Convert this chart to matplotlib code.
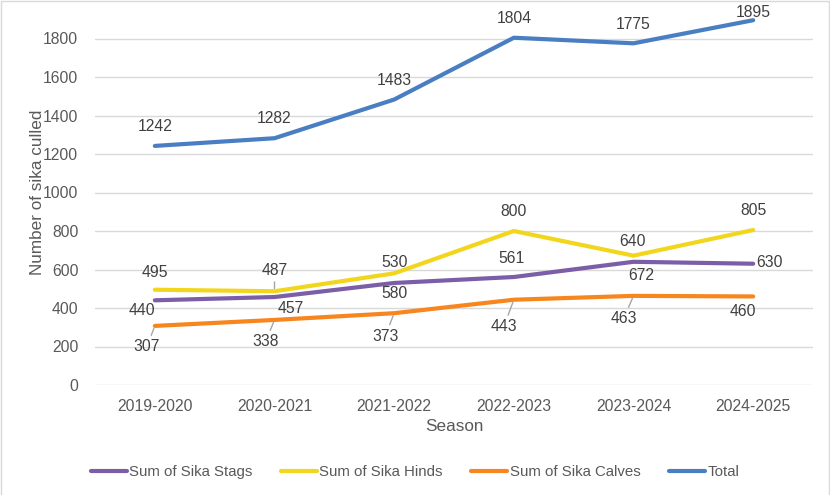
import matplotlib.pyplot as plt
from matplotlib.patches import Rectangle

plt.rcParams['font.family'] = ['Liberation Sans', 'DejaVu Sans']

seasons = ["2019-2020", "2020-2021", "2021-2022", "2022-2023", "2023-2024", "2024-2025"]
stags = [440, 457, 530, 561, 640, 630]
hinds = [495, 487, 580, 800, 672, 805]
calves = [307, 338, 373, 443, 463, 460]
total = [1242, 1282, 1483, 1804, 1775, 1895]

GRID = "#D9D9D9"
TXT = "#595959"
PURPLE = "#7B5EA7"
YELLOW = "#F2D61E"
ORANGE = "#F7861F"
BLUE = "#4A7EC2"

fig = plt.figure(figsize=(8.3, 4.95), dpi=100)
fig.patch.set_facecolor("white")
ax = fig.add_axes([95 / 830, 110 / 495, 718 / 830, 385 / 495])

x = list(range(len(seasons)))
series = [
    ("Sum of Sika Stags", stags, PURPLE),
    ("Sum of Sika Hinds", hinds, YELLOW),
    ("Sum of Sika Calves", calves, ORANGE),
    ("Total", total, BLUE),
]
for name, vals, col in series:
    ax.plot(x, vals, color=col, lw=3, solid_capstyle='round', solid_joinstyle='round',
            label=name, zorder=3)

ax.set_xlim(-0.5, len(seasons) - 0.5)
ax.set_ylim(0, 2000)
ax.set_yticks(range(0, 2000, 200))
ax.set_xticks(x)
ax.set_xticklabels(seasons)
ax.grid(axis='y', color=GRID, lw=1)
ax.set_axisbelow(True)
for s in ax.spines.values():
    s.set_visible(False)
ax.tick_params(length=0, colors=TXT, labelsize=11.3)
ax.tick_params(axis='y', pad=12)
ax.tick_params(axis='x', pad=10)
ax.set_xlabel("Season", fontsize=12.3, color=TXT, labelpad=4)
ax.set_ylabel("Number of sika culled", fontsize=12.3, color=TXT, labelpad=-1.5)

# data label offsets (pixels) and whether a leader line is drawn
offs = {
    "Total": [(0, 19, 0), (0, 20, 0), (0, 19, 0), (0, 19, 0), (0, 19, 0), (0, 8, 0)],
    "Sum of Sika Hinds": [(0, 17, 0), (0, 21, 1), (0, -20, 0), (0, 19, 0), (8, -20, 0), (0, 20, 0)],
    "Sum of Sika Stags": [(-13, -10, 0), (16, -11, 0), (0, 20, 0), (-2, 19, 0), (-1, 20, 0), (3, 1, 0)],
    "Sum of Sika Calves": [(-8, -21, 1), (-9, -22, 1), (-9, -23, 1), (-10, -27, 1), (-10, -23, 1), (-10, -15, 0)],
}
for name, vals, col in series:
    for i, v in enumerate(vals):
        dx, dy, lead = offs[name][i]
        ha = 'left' if (name == "Sum of Sika Stags" and i == 5) else 'center'
        kw = {}
        if lead:
            kw['arrowprops'] = dict(arrowstyle='-', color="#A6A6A6", lw=1, shrinkA=1, shrinkB=2)
        ax.annotate(str(v), (i, v), xytext=(dx, dy), textcoords='offset pixels',
                    ha=ha, va='center', fontsize=11.3, color="#404040", zorder=4, **kw)

leg = fig.legend(loc='center', bbox_to_anchor=(0.5, 1 - 472 / 495), ncol=4, frameon=False,
                 fontsize=10.8, handlelength=2.4, handletextpad=0.15, columnspacing=1.9)
for t in leg.get_texts():
    t.set_color(TXT)

fig.patches.append(Rectangle((1 / 830, -0.01), 828 / 830, 1 - 1 / 495 + 0.01, transform=fig.transFigure,
                             fill=False, edgecolor="#D9D9D9", lw=1))

fig.savefig("out.png", dpi=100)
